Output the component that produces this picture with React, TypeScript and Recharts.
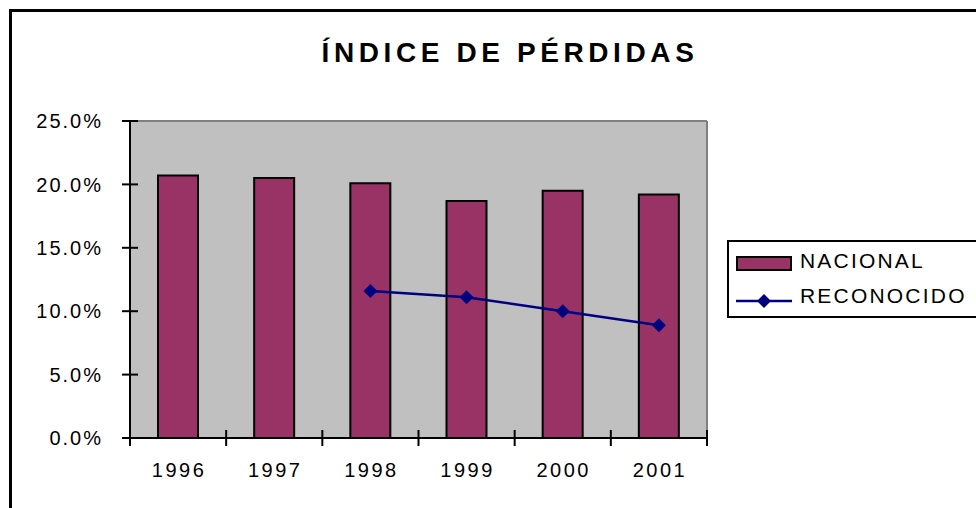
import React from "react";
import { Bar, CartesianGrid, ComposedChart, Line, XAxis, YAxis } from "recharts";

const years = ["1996", "1997", "1998", "1999", "2000", "2001"];
const nacional = [20.7, 20.5, 20.1, 18.7, 19.5, 19.2];
const reconocido: (number | null)[] = [null, null, 11.6, 11.1, 10.0, 8.9];
const yTicks = [0, 5, 10, 15, 20, 25];

const data = years.map((year, i) => ({
  year,
  nacional: nacional[i],
  reconocido: reconocido[i],
}));

const FONT = "'Liberation Sans', Arial, sans-serif";
const TICK = 8; // half length of the cross tick marks
const axisStroke = { stroke: "#000", strokeWidth: 2 };

// y ticks: cross mark on the axis plus the label to its left
const YTick = (props: any) => {
  const { x, y, payload } = props;
  return (
    <g>
      <line x1={x - TICK} y1={y} x2={x + TICK} y2={y} stroke="#000" strokeWidth={2} />
      <text
        x={x - TICK - 19}
        y={y}
        dy="0.36em"
        textAnchor="end"
        fontFamily={FONT}
        fontSize={20}
        fill="#000"
        style={{ letterSpacing: 2 }}
      >
        {`${Number(payload.value).toFixed(1)}%`}
      </text>
    </g>
  );
};

// x ticks: cross marks on the category boundaries, label in the band centre
const XTick = (props: any) => {
  const { x, y, payload, index, width } = props;
  const half = payload.offset ?? width / (2 * years.length);
  const edges = [x - half];
  if (index === years.length - 1) edges.push(x + half);
  return (
    <g>
      {edges.map((ex) => (
        <line
          key={ex}
          x1={ex}
          y1={y - TICK}
          x2={ex}
          y2={y + TICK}
          stroke="#000"
          strokeWidth={2}
        />
      ))}
      <text
        x={x + 1}
        y={y + 25}
        dy="0.71em"
        textAnchor="middle"
        fontFamily={FONT}
        fontSize={20}
        fill="#000"
        style={{ letterSpacing: 2.5 }}
      >
        {payload.value}
      </text>
    </g>
  );
};

const Diamond = (props: any) => {
  const { cx, cy, index } = props;
  if (cx == null || cy == null || reconocido[index] == null) return null;
  const r = 7;
  return (
    <polygon
      key={`d-${index}`}
      points={`${cx},${cy - r} ${cx + r},${cy} ${cx},${cy + r} ${cx - r},${cy}`}
      fill="#000080"
    />
  );
};

const legendText: React.CSSProperties = {
  position: "absolute",
  left: 71,
  fontFamily: FONT,
  fontSize: 21,
  lineHeight: "21px",
  letterSpacing: 2.2,
  whiteSpace: "nowrap",
};

export default function App() {
  return (
    <div
      style={{
        position: "absolute",
        left: 0,
        top: 0,
        width: 976,
        height: 508,
        overflow: "hidden",
        background: "#fff",
      }}
    >
      <div
        style={{
          position: "absolute",
          left: 9,
          top: 9,
          width: 1100,
          height: 600,
          border: "3px solid #000",
        }}
      />
      <div
        style={{
          position: "absolute",
          left: 22,
          top: 39,
          width: 976,
          textAlign: "center",
          fontFamily: FONT,
          fontWeight: "bold",
          fontSize: 28,
          lineHeight: "28px",
          letterSpacing: 4.6,
          whiteSpace: "nowrap",
        }}
      >
        ÍNDICE DE PÉRDIDAS
      </div>

      <div style={{ position: "absolute", left: 0, top: 0 }}>
        <ComposedChart
          width={976}
          height={508}
          data={data}
          margin={{ top: 121, right: 269, bottom: 25, left: 0 }}
        >
          <CartesianGrid horizontal={false} vertical={false} fill="#C0C0C0" />

          {/* grey plot-area border, top and right */}
          <XAxis
            xAxisId="top"
            orientation="top"
            dataKey="year"
            mirror
            height={10}
            tick={false}
            tickLine={false}
            axisLine={{ stroke: "#808080", strokeWidth: 2 }}
          />
          <YAxis
            yAxisId="right"
            orientation="right"
            mirror
            width={10}
            domain={[0, 25]}
            tick={false}
            tickLine={false}
            axisLine={{ stroke: "#808080", strokeWidth: 2 }}
          />

          <XAxis
            dataKey="year"
            height={45}
            interval={0}
            tickSize={0}
            tickMargin={0}
            tick={<XTick />}
            tickLine={false}
            axisLine={axisStroke}
          />
          <YAxis
            width={130}
            domain={[0, 25]}
            ticks={yTicks}
            interval={0}
            tickSize={0}
            tickMargin={0}
            tick={<YTick />}
            tickLine={false}
            axisLine={axisStroke}
          />

          <Bar
            dataKey="nacional"
            name="NACIONAL"
            barSize={40}
            fill="#993366"
            stroke="#000"
            strokeWidth={2}
            isAnimationActive={false}
          />
          <Line
            dataKey="reconocido"
            name="RECONOCIDO"
            stroke="#000080"
            strokeWidth={2.5}
            dot={<Diamond />}
            activeDot={false}
            isAnimationActive={false}
          />
        </ComposedChart>
      </div>

      <div
        style={{
          position: "absolute",
          left: 727,
          top: 240,
          width: 280,
          height: 74,
          border: "2px solid #000",
          background: "#fff",
        }}
      >
        <div
          style={{
            position: "absolute",
            left: 7,
            top: 14,
            width: 52,
            height: 11,
            background: "#993366",
            border: "2px solid #000",
          }}
        />
        <div style={{ ...legendText, top: 8 }}>NACIONAL</div>
        <svg
          style={{ position: "absolute", left: 7, top: 51 }}
          width={56}
          height={16}
        >
          <line x1={0} y1={8} x2={56} y2={8} stroke="#000080" strokeWidth={2.5} />
          <polygon points="28,1 35,8 28,15 21,8" fill="#000080" />
        </svg>
        <div style={{ ...legendText, top: 43 }}>RECONOCIDO</div>
      </div>
    </div>
  );
}
